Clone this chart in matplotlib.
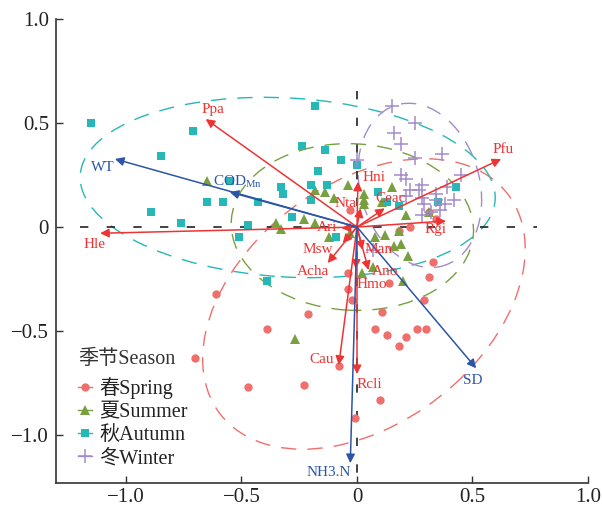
import matplotlib
matplotlib.use("Agg")
import matplotlib.pyplot as plt
from matplotlib.patches import Ellipse
from matplotlib.lines import Line2D

plt.rcParams['font.family'] = ['Liberation Serif', 'Noto Sans CJK SC']
plt.rcParams['mathtext.fontset'] = 'custom'
plt.rcParams['mathtext.rm'] = 'Liberation Serif'
plt.rcParams['axes.unicode_minus'] = True

# ---------------- data ----------------
spring_x = [-0.61, -0.39, -0.70, -0.47, -0.21, -0.23, -0.08, -0.04, -0.04, -0.02, -0.01, -0.03,
            0.18, 0.23, 0.31, 0.34, 0.33, 0.31, 0.14, 0.29, 0.11, 0.08, 0.13, 0.18, 0.21, 0.26, 0.30, 0.10]
spring_y = [-0.32, -0.49, -0.63, -0.77, -0.42, -0.76, -0.67, -0.22, -0.30, -0.35, -0.92, 0.08,
            -0.02, 0.00, 0.07, 0.04, -0.17, -0.24, -0.27, -0.35, -0.41, -0.49, -0.52, -0.57, -0.53, -0.49, -0.49, -0.83]

summer_x = [-0.65, -0.35, -0.33, -0.27, -0.23, -0.18, -0.14, -0.18, -0.12, -0.10, -0.04, -0.03, 0.03, 0.03,
            0.03, 0.02, 0.07, 0.08, 0.12, 0.15, 0.16, 0.18, 0.19, 0.21, 0.22, 0.20, 0.31, 0.11]
summer_y = [0.22, 0.02, -0.01, -0.54, 0.04, 0.18, 0.17, 0.02, -0.05, 0.14, 0.20, -0.03, 0.16, 0.13,
            0.11, -0.22, -0.19, -0.05, -0.04, 0.19, -0.09, -0.02, -0.08, 0.06, -0.14, -0.26, 0.07, 0.12]

autumn_x = [-1.15, -0.71, -0.85, -0.55, -0.65, -0.58, -0.43, -0.89, -0.76, -0.47, -0.51, -0.39, -0.33, -0.32,
            -0.24, -0.18, -0.14, -0.07, -0.17, 0.00, -0.20, -0.13, -0.20, -0.28, -0.09, 0.09, 0.13, 0.18, 0.35, 0.43]
autumn_y = [0.50, 0.46, 0.34, 0.22, 0.12, 0.12, 0.12, 0.07, 0.02, 0.01, -0.05, -0.26, 0.19, 0.16,
            0.39, 0.58, 0.37, 0.32, 0.27, 0.30, 0.20, 0.20, 0.13, 0.05, -0.05, 0.17, 0.12, 0.10, 0.12, 0.19]

winter_x = [0.15, 0.25, 0.16, 0.19, 0.37, 0.25, 0.00, 0.45, 0.19, 0.21, 0.28, 0.27, 0.21, 0.39, 0.34,
            0.28, 0.42, 0.38, 0.29, 0.34, 0.28, 0.32, 0.07, 0.23, 0.36]
winter_y = [0.58, 0.50, 0.45, 0.40, 0.35, 0.33, 0.32, 0.25, 0.25, 0.23, 0.20, 0.18, 0.15, 0.19, 0.16,
            0.14, 0.13, 0.11, 0.11, 0.13, 0.06, 0.07, -0.11, 0.18, 0.08]

# species arrows (red): name, tip x, tip y, label x, label y
species_names = ['Ppa', 'Hle', 'Pfu', 'Rgi', 'Hni', 'Nta', 'Ceac', 'Ari', 'Msw', 'Acha', 'Man', 'Ano', 'Hmo', 'Cau', 'Rcli']
species_x = [-0.655, -1.112, 0.624, 0.385, 0.004, 0.015, 0.12, -0.067, -0.062, -0.127, 0.024, 0.05, -0.005, -0.079, 0.0]
species_y = [0.519, -0.03, 0.327, 0.029, 0.218, 0.09, 0.09, -0.006, -0.077, -0.173, -0.11, -0.207, -0.2, -0.663, -0.707]
species_lx = [-0.623, -1.138, 0.634, 0.34, 0.072, -0.049, 0.146, -0.131, -0.17, -0.192, 0.094, 0.12, 0.064, -0.153, 0.055]
species_ly = [0.567, -0.082, 0.375, -0.014, 0.236, 0.115, 0.135, 0.0, -0.11, -0.212, -0.106, -0.212, -0.274, -0.635, -0.755]

# environment arrows (blue)
env_names = ['WT', 'COD$_{\\rm Mn}$', 'SD', 'NH3.N']
env_x = [-1.048, -0.551, 0.516, -0.029]
env_y = [0.327, 0.168, -0.679, -1.135]
env_lx = [-1.099, -0.515, 0.50, -0.123]
env_ly = [0.288, 0.216, -0.736, -1.178]

# season ellipses: center x, center y, width, height, angle
ell_season = ['Spring', 'Summer', 'Autumn', 'Winter']
ell_cx = [0.03, -0.02, -0.30, 0.272]
ell_cy = [-0.37, 0.0, 0.19, 0.20]
ell_w = [1.64, 1.05, 1.80, 0.52]
ell_h = [1.10, 0.80, 0.86, 0.80]
ell_ang = [45, -4, -4, 12]

season_labels = ['春Spring', '夏Summer', '秋Autumn', '冬Winter']
season_colors = ['#EF6F6C', '#78A040', '#25B8B6', '#A38BCB']
season_markers = ['o', '^', 's', '+']
season_ms = [6, 7, 6, 10]

red = '#EE3333'
blue = '#2B55A8'

# ---------------- plot ----------------
fig = plt.figure(figsize=(6.02, 5.08), dpi=100)
ax = fig.add_axes([56/602, 1 - 483.3/508, (588-56)/602, (483.3-19)/508])
ax.set_xlim(-1.303, 1.0)
ax.set_ylim(-1.232, 1.0)

for cx, cy, w, h, a, c in zip(ell_cx, ell_cy, ell_w, ell_h, ell_ang, season_colors):
    ax.add_patch(Ellipse((cx, cy), w, h, angle=a, fill=False, edgecolor=c,
                         lw=1.0, ls=(0, (11, 8)), zorder=2))

xs = [spring_x, summer_x, autumn_x, winter_x]
ys = [spring_y, summer_y, autumn_y, winter_y]
for x, y, c, m, ms in zip(xs, ys, season_colors, season_markers, season_ms):
    if m == '+':
        ax.plot(x, y, ls='none', marker=m, color=c, ms=ms, mew=1.1, zorder=3)
    else:
        ax.plot(x, y, ls='none', marker=m, color=c, ms=ms, mew=0, zorder=3)

ax.plot([-1.2, 0.78], [0, 0], color='#222222', lw=1.2, ls=(0, (5, 11)), zorder=2.5)
ax.plot([0, 0], [0.655, -1.2], color='#222222', lw=1.2, ls=(0, (5, 11)), zorder=2.5)

for tx, ty in zip(species_x, species_y):
    ax.annotate('', xy=(tx, ty), xytext=(0, 0),
                arrowprops=dict(arrowstyle='-|>', color=red, lw=1.1, mutation_scale=13,
                                shrinkA=0, shrinkB=0), zorder=4)
for n, lx, ly in zip(species_names, species_lx, species_ly):
    ax.text(lx, ly, n, color=red, fontsize=11, ha='center', va='center', zorder=5)

for tx, ty in zip(env_x, env_y):
    ax.annotate('', xy=(tx, ty), xytext=(0, 0),
                arrowprops=dict(arrowstyle='-|>', color=blue, lw=1.1, mutation_scale=13,
                                shrinkA=0, shrinkB=0), zorder=4)
for n, lx, ly in zip(env_names, env_lx, env_ly):
    ax.text(lx, ly, n, color=blue, fontsize=11, ha='center', va='center', zorder=5)

# axes styling
for s in ['top', 'right']:
    ax.spines[s].set_visible(False)
for s in ['left', 'bottom']:
    ax.spines[s].set_color('#333333')
    ax.spines[s].set_linewidth(1.2)
ax.set_xticks([-1.0, -0.5, 0, 0.5, 1.0])
ax.set_xticklabels(['\u22121.0', '\u22120.5', '0', '0.5', '1.0'])
ax.set_yticks([-1.0, -0.5, 0, 0.5, 1.0])
ax.set_yticklabels(['\u22121.0', '\u22120.5', '0', '0.5', '1.0'])
ax.tick_params(direction='in', length=5, width=1.0, color='#333333',
               labelsize=15, labelcolor='#222222')
ax.tick_params(axis='y', pad=5)
ax.tick_params(axis='x', pad=3.5)

handles = [Line2D([0], [0], color=c, marker=m, ms=ms, lw=1.0,
                  mew=(1.1 if m == '+' else 0))
           for c, m, ms in zip(season_colors, season_markers, season_ms)]
leg = ax.legend(handles, season_labels, title='季节Season', loc='lower left',
                bbox_to_anchor=(0.041, 0.032), frameon=False, fontsize=14.5, title_fontsize=14.5,
                handlelength=0.7, handletextpad=0.35, labelspacing=0.2, borderpad=0,
                borderaxespad=0, alignment='left')
leg._legend_box.sep = 6
for t in leg.get_texts():
    t.set_color('#222222')
leg.get_title().set_color('#333333')

fig.savefig('out.png', dpi=100)
